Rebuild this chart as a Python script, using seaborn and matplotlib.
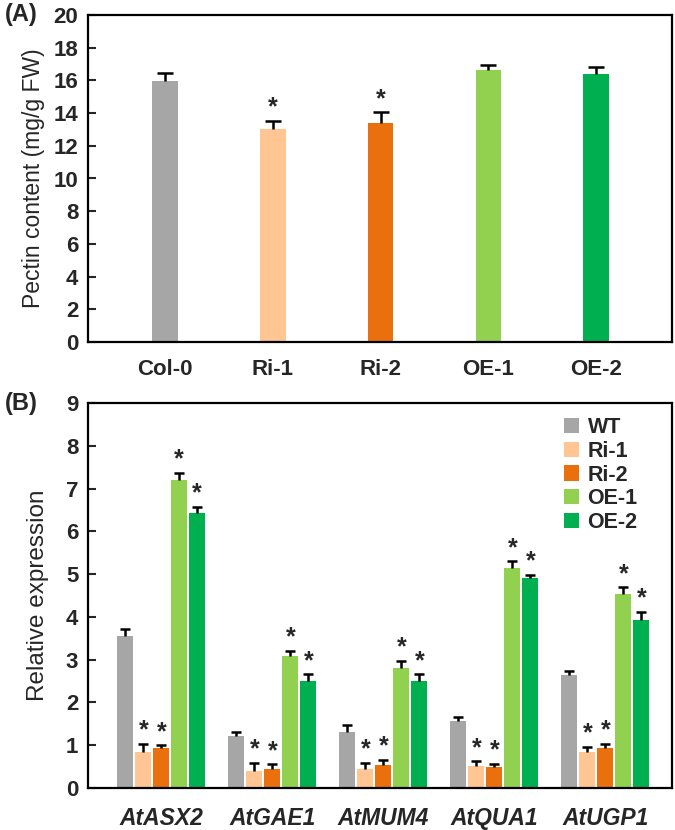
import numpy as np
import pandas as pd
import matplotlib
matplotlib.use("Agg")
import matplotlib.pyplot as plt
import seaborn as sns

# ---------------- data ----------------
genotypes = ["Col-0", "Ri-1", "Ri-2", "OE-1", "OE-2"]
pectin = [15.95, 13.05, 13.4, 16.65, 16.4]
pectin_err = [0.5, 0.47, 0.65, 0.32, 0.39]
pectin_sig = [False, True, True, False, False]

genes = ["AtASX2", "AtGAE1", "AtMUM4", "AtQUA1", "AtUGP1"]
lines = ["WT", "Ri-1", "Ri-2", "OE-1", "OE-2"]
expr_WT = [3.55, 1.22, 1.31, 1.56, 2.65]
expr_Ri1 = [0.85, 0.40, 0.44, 0.51, 0.85]
expr_Ri2 = [0.93, 0.44, 0.54, 0.48, 0.93]
expr_OE1 = [7.21, 3.08, 2.80, 5.14, 4.54]
expr_OE2 = [6.43, 2.51, 2.51, 4.91, 3.93]
err_WT = [0.16, 0.08, 0.16, 0.10, 0.08]
err_Ri1 = [0.19, 0.19, 0.15, 0.11, 0.11]
err_Ri2 = [0.07, 0.11, 0.11, 0.08, 0.11]
err_OE1 = [0.15, 0.12, 0.18, 0.16, 0.15]
err_OE2 = [0.15, 0.15, 0.15, 0.08, 0.18]
sig_B = {"WT": False, "Ri-1": True, "Ri-2": True, "OE-1": True, "OE-2": True}

colors = ["#A6A6A6", "#FFC593", "#EA700D", "#92D050", "#00B050"]

# ---------------- style ----------------
sns.set_style("white")
plt.rcParams["font.family"] = ["Liberation Sans", "DejaVu Sans"]
plt.rcParams["axes.linewidth"] = 1.6
plt.rcParams["axes.edgecolor"] = "black"

fig = plt.figure(figsize=(6.75, 8.3), dpi=100)
W, H = 675, 830
axA = fig.add_axes([88 / W, 1 - 342 / H, 584 / W, (342 - 15) / H])
axB = fig.add_axes([88 / W, 1 - 788 / H, 584 / W, (788 - 403) / H])


def upper_errorbars(ax, xs, ys, errs, capsize):
    _, caps, _ = ax.errorbar(xs, ys, yerr=[np.zeros(len(errs)), errs],
                             fmt="none", ecolor="black", elinewidth=1.8,
                             capsize=capsize, capthick=1.8)
    # hide the lower cap (only the upper half of the error bar is shown)
    if len(caps) == 2:
        caps[0].set_visible(False)


# ---------------- panel A ----------------
dfA = pd.DataFrame({"genotype": genotypes, "pectin": pectin})
sns.barplot(data=dfA, x="genotype", y="pectin", hue="genotype",
            palette=colors, width=0.24, legend=False, ax=axA,
            linewidth=0, saturation=1)
for cont, e, s in zip(axA.containers, pectin_err, pectin_sig):
    bar = cont[0]
    xc = bar.get_x() + bar.get_width() / 2
    yv = bar.get_height()
    upper_errorbars(axA, [xc], [yv], [e], 5.5)
    if s:
        axA.annotate("*", (xc, yv + e), xytext=(0, 1), textcoords="offset points",
                     ha="center", va="bottom", fontsize=18, fontweight="bold")

axA.set_ylim(0, 20)
axA.set_yticks(np.arange(0, 21, 2))
axA.set_xlim(-0.71, 4.70)
axA.set_xlabel("")
axA.set_ylabel("Pectin content (mg/g FW)", fontsize=16.5, labelpad=6)
axA.tick_params(axis="y", direction="in", length=6, width=1.5, pad=7,
                labelsize=16, left=True)
axA.tick_params(axis="x", length=0, pad=12, labelsize=16)
for lab in axA.get_yticklabels() + axA.get_xticklabels():
    lab.set_fontweight("bold")
for sp in axA.spines.values():
    sp.set_visible(True)
    sp.set_linewidth(1.6)
    sp.set_color("black")
fig.text(5 / W, 1 - 15 / H, "(A)", fontsize=17, fontweight="bold",
         ha="left", va="center")

# ---------------- panel B ----------------
series = {"WT": (expr_WT, err_WT), "Ri-1": (expr_Ri1, err_Ri1),
          "Ri-2": (expr_Ri2, err_Ri2), "OE-1": (expr_OE1, err_OE1),
          "OE-2": (expr_OE2, err_OE2)}
rows = []
for ln in lines:
    for g, v in zip(genes, series[ln][0]):
        rows.append({"gene": g, "line": ln, "expr": v})
dfB = pd.DataFrame(rows)
sns.barplot(data=dfB, x="gene", y="expr", hue="line", hue_order=lines,
            palette=colors, width=0.81, gap=0.12, ax=axB, linewidth=0,
            saturation=1)
for cont, ln in zip(axB.containers, lines):
    errs = series[ln][1]
    xs = [b.get_x() + b.get_width() / 2 for b in cont]
    ys = [b.get_height() for b in cont]
    upper_errorbars(axB, xs, ys, errs, 3.6)
    if sig_B[ln]:
        for xc, yv, e in zip(xs, ys, errs):
            axB.annotate("*", (xc, yv + e), xytext=(0, 1),
                         textcoords="offset points", ha="center", va="bottom",
                         fontsize=18, fontweight="bold")

axB.set_ylim(0, 9)
axB.set_yticks(np.arange(0, 10, 1))
axB.set_xlim(-0.66, 4.60)
axB.set_xlabel("")
axB.set_ylabel("Relative expression", fontsize=17.5, labelpad=12)
axB.tick_params(axis="y", direction="in", length=6, width=1.5, pad=7,
                labelsize=16, left=True)
axB.tick_params(axis="x", length=0, pad=14, labelsize=16.5)
for lab in axB.get_yticklabels():
    lab.set_fontweight("bold")
for lab in axB.get_xticklabels():
    lab.set_fontweight("bold")
    lab.set_fontstyle("italic")
for sp in axB.spines.values():
    sp.set_visible(True)
    sp.set_linewidth(1.6)
    sp.set_color("black")
leg = axB.legend(loc="upper left", bbox_to_anchor=(0.80, 0.985), frameon=False,
                 handlelength=0.7, handleheight=0.7, handletextpad=0.4,
                 labelspacing=0.12, borderaxespad=0,
                 prop={"size": 15.5, "weight": "bold"})
fig.text(5 / W, 1 - 403 / H, "(B)", fontsize=17, fontweight="bold",
         ha="left", va="center")

fig.savefig("out.png", dpi=100)
